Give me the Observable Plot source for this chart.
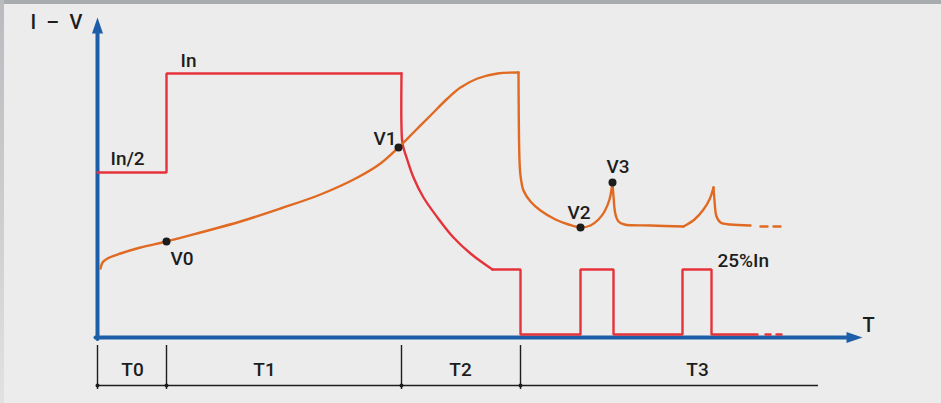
<!DOCTYPE html>
<html>
<head>
<meta charset="utf-8">
<script src="https://cdn.jsdelivr.net/npm/d3@7"></script>
<script src="https://cdn.jsdelivr.net/npm/@observablehq/plot@0.6"></script>
<style>
  html, body { margin: 0; padding: 0; background: #ececec; }
  #wrap { position: relative; width: 941px; height: 403px; overflow: hidden; }
  #topband { position: absolute; left: 0; top: 0; width: 941px; height: 4px; background: #a9acaf; }
  #leftband { position: absolute; left: 0; top: 0; width: 4px; height: 403px;
    background: linear-gradient(#b9bbbe, #cfd0d2 60%, #e2e2e2); }
</style>
</head>
<body>
<div id="wrap"><div id="chart"></div><div id="topband"></div><div id="leftband"></div></div>
<script>
// time (t) and level (v) values
const currentSteps = [[0,165],[69,165],[69,264],[304,264]];
const currentDecay = [[304,264],[304,210],[305,194],[310,177],[316,160],[326,140],[340,120],[356,100],[373,84],[395,68]];
const currentPulses = [[395,68],[423,68],[423,3],[483,3],[483,68],[516,68],[516,3],[585,3],[585,68],[614,68],[614,3],[660,3]];
const currentTail = [[668,3],[684,3]];

const voltageRise = [[3,69],[5,75],[10,79],[23,84],[43,90],[69,96],[103,105],[143,116],[183,129],[223,143],[260,160],[283,174],[301,190],[317,206],[333,222],[350,239],[363,250],[380,259],[400,264],[421,265]];
const voltageDrop = [[421,265],[422,177],[423,162],[426,147],[433,136],[443,127],[458,118],[471,113],[483,110],[493,112],[501,118],[507,126],[512,138],[515,155]];
const voltageFall1 = [[515,155],[516,141],[518,123],[521,116],[527,113],[553,112],[586,111]];
const voltagePeak2 = [[586,111],[597,118],[606,128],[612,138],[616,150]];
const voltageFall2 = [[616,150],[617,137],[619,121],[623,115],[633,113],[653,112]];
const voltageTail = [[663,111],[684,111]];

const markedPoints = [[69,96],[301,190],[483,110],[515,155]];
const pointNames = ["V0","V1","V2","V3"];
const pointLabelPos = [[73,79],[276,199],[470,125],[509,171]];

const levelNames = ["In","In/2","25%In"];
const levelLabelPos = [[83,277],[13,179],[620,77]];

const phaseBounds = [0, 69, 304, 423];
const phaseNames = ["T0","T1","T2","T3"];
const phaseCenters = [35, 167, 363, 600];
const timelineEnd = 721;

const axisTitles = ["I\u2002\u2013\u2002V","T"];
const axisTitlePos = [[-67,315],[765,12]];

const yAxisTop = 320, xAxisEnd = 765;

const RED = "#e5333b", ORANGE = "#e06a22", BLUE = "#1c5ea8", INK = "#1d1d1d";

const arrowUp = { draw(ctx) { ctx.moveTo(0, 0); ctx.lineTo(5.5, 16); ctx.lineTo(-5.5, 16); ctx.closePath(); } };
const arrowRight = { draw(ctx) { ctx.moveTo(0, 0); ctx.lineTo(-16, -5.5); ctx.lineTo(-16, 5.5); ctx.closePath(); } };

const font = "Roboto, 'Noto Sans', sans-serif";
const P = d => d;

const chart = Plot.plot({
  width: 941,
  height: 403,
  margin: 0,
  x: { domain: [-97, 844], range: [0, 941], axis: null },
  y: { domain: [-66, 337], range: [403, 0], axis: null },
  style: { background: "#ececec", fontFamily: font },
  marks: [
    // blue axes
    Plot.line([[0, -1.5], [0, yAxisTop - 8]], { stroke: BLUE, strokeWidth: 4 }),
    Plot.line([[-2, 0], [xAxisEnd - 8, 0]], { stroke: BLUE, strokeWidth: 4 }),
    Plot.dot([[0, yAxisTop]], { symbol: arrowUp, fill: BLUE, stroke: "none", r: 5 }),
    Plot.dot([[xAxisEnd, 0]], { symbol: arrowRight, fill: BLUE, stroke: "none", r: 5 }),

    // current (red)
    Plot.line(currentSteps, { stroke: RED, strokeWidth: 2.4, strokeLinejoin: "miter" }),
    Plot.line(currentDecay, { stroke: RED, strokeWidth: 2.4, curve: "catmull-rom" }),
    Plot.line(currentPulses, { stroke: RED, strokeWidth: 2.4, strokeLinejoin: "miter" }),
    Plot.line(currentTail, { stroke: RED, strokeWidth: 2.4, strokeDasharray: "5,6" }),

    // voltage (orange)
    Plot.line(voltageRise, { stroke: ORANGE, strokeWidth: 2.4, curve: "catmull-rom" }),
    Plot.line(voltageDrop, { stroke: ORANGE, strokeWidth: 2.4, curve: "catmull-rom" }),
    Plot.line(voltageFall1, { stroke: ORANGE, strokeWidth: 2.4, curve: "catmull-rom" }),
    Plot.line(voltagePeak2, { stroke: ORANGE, strokeWidth: 2.4, curve: "catmull-rom" }),
    Plot.line(voltageFall2, { stroke: ORANGE, strokeWidth: 2.4, curve: "catmull-rom" }),
    Plot.line(voltageTail, { stroke: ORANGE, strokeWidth: 2.4, strokeDasharray: "7,6" }),

    // marked voltage points
    Plot.dot(markedPoints, { r: 4, fill: INK, stroke: "none" }),

    // labels
    Plot.text(pointNames, { x: (d, i) => pointLabelPos[i][0], y: (d, i) => pointLabelPos[i][1], text: P, textAnchor: "start", fontSize: 19, fontWeight: 500, fill: INK }),
    Plot.text(levelNames, { x: (d, i) => levelLabelPos[i][0], y: (d, i) => levelLabelPos[i][1], text: P, textAnchor: "start", fontSize: 19, fontWeight: 500, fill: INK }),
    Plot.text(axisTitles, { x: (d, i) => axisTitlePos[i][0], y: (d, i) => axisTitlePos[i][1], text: P, textAnchor: "start", fontSize: 20, fontWeight: 500, fill: INK }),

    // timeline
    Plot.ruleX(phaseBounds, { x: P, y1: () => -8, y2: () => -52, stroke: INK, strokeWidth: 1.4 }),
    Plot.ruleY([-48], { x1: () => 0, x2: () => timelineEnd, stroke: INK, strokeWidth: 1.4 }),
    Plot.dot(phaseBounds, { x: P, y: () => -48, r: 2, fill: INK, stroke: "none" }),
    Plot.text(phaseNames, { x: (d, i) => phaseCenters[i], y: () => -32, text: P, textAnchor: "middle", fontSize: 19, fontWeight: 500, fill: INK })
  ]
});

document.getElementById("chart").appendChild(chart);
</script>
</body>
</html>
